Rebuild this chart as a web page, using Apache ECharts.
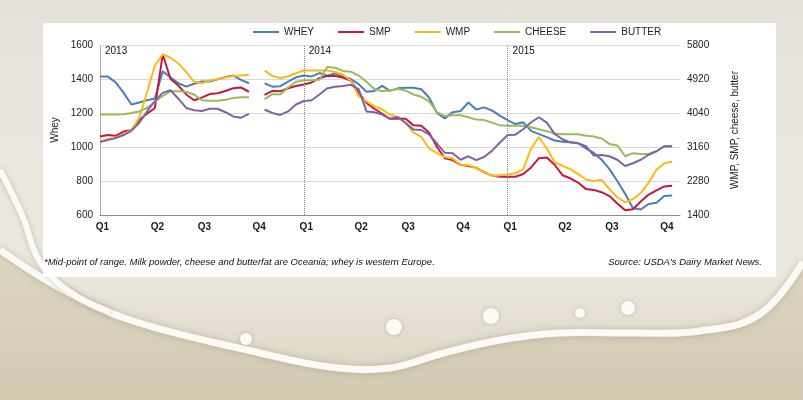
<!DOCTYPE html>
<html><head><meta charset="utf-8">
<script src="https://cdn.jsdelivr.net/npm/echarts@6/dist/echarts.min.js"></script>
<style>
html,body{margin:0;padding:0;width:803px;height:400px;overflow:hidden;}
body{background:linear-gradient(180deg,#e3e1da 0%,#e9e7df 35%,#ebe8de 68%,#d9d2bd 100%);}
#c{width:803px;height:400px;}
</style></head><body><div id="c"></div>
<script>
// ---- data ----
const seriesNames = ['WHEY', 'SMP', 'WMP', 'CHEESE', 'BUTTER'];
const years = ['2013', '2014', '2015'];
// Whey (left axis), fortnightly
const whey = [1414,1414,1380,1320,1250,1262,1275,1285,1445,1410,1375,1355,1372,1385,1385,1398,1412,1420,1395,1375,null,
  1374,1355,1358,1385,1410,1420,1415,1435,1420,1432,1415,1400,1370,1325,1330,1360,1330,
  1345,1349,1349,1340,1290,1200,1168,1205,1212,1262,1220,1233,1215,1185,1158,1135,1145,1095,1076,1058,1038,1031,1028,1022,992,965,925,870,800,725,640,633,665,672,712,714,null];
// Right axis series
const smp = [3430,3470,3450,3560,3600,3860,4020,4170,5560,4920,4750,4520,4370,4440,4530,4550,4610,4680,4700,4590,null,
  4510,4610,4600,4680,4740,4780,4830,4940,5000,5000,4960,4880,4570,4300,4150,4020,3890,
  3900,3890,3720,3710,3530,3160,2870,2820,2700,2670,2620,2510,2420,2390,2390,2390,2460,2630,2870,2890,2700,2430,2350,2240,2070,2050,1990,1890,1700,1520,1550,1750,1930,2040,2140,2160,null];
const wmp = [3310,3360,3400,3490,3600,3910,4570,5270,5560,5470,5320,5100,4850,4810,4880,4920,4960,5000,5010,5030,null,
  5140,5000,4940,4990,5070,5140,5140,5140,5140,5100,5030,4880,4480,4340,4220,4130,4000,
  3930,3780,3530,3420,3120,3000,2900,2860,2700,2690,2610,2520,2410,2430,2450,2480,2590,3120,3420,3120,2770,2670,2590,2460,2320,2280,2310,2070,1860,1730,1810,1970,2240,2570,2740,2780,null];
const cheese = [4000,4000,4000,4010,4040,4080,4170,4330,4480,4600,4600,4590,4520,4370,4360,4360,4380,4430,4450,4450,null,
  4400,4530,4520,4700,4850,4890,4890,4900,5230,5210,5130,5110,5010,4850,4660,4600,4630,
  4660,4620,4520,4460,4340,4060,3960,3980,3980,3930,3870,3860,3790,3720,3710,3710,3710,3670,3620,3570,3510,3490,3490,3490,3450,3430,3380,3240,3200,2920,3000,2980,2980,3050,3180,3190,null];
const butter = [3290,3340,3390,3470,3580,3780,4080,4350,4560,4630,4410,4170,4110,4090,4150,4150,4060,3950,3920,4020,null,
  4130,4040,3990,4080,4260,4350,4370,4520,4680,4720,4740,4770,4660,4080,4060,4000,3890,
  3940,3780,3610,3600,3480,3250,3010,3000,2830,2920,2820,2900,3060,3270,3470,3480,3620,3800,3930,3790,3500,3360,3280,3260,3180,2940,2950,2920,2830,2670,2740,2830,2960,3050,3180,3170,null];
const leftAxis = { min: 600, max: 1600, step: 200, name: 'Whey' };
const rightAxis = { min: 1400, max: 5800, name: 'WMP, SMP, cheese, butter' };
const footnote = '*Mid-point of range. Milk powder, cheese and butterfat are Oceania; whey is western Europe.';
const sourceNote = "Source: USDA's Dairy Market News.";

// fortnightly period dates (category axis)
const periods = [];
for (let i = 0; i < whey.length; i++) {
  const d = new Date(Date.UTC(2013, 0, 3) + i * 14 * 86400000);
  periods.push(d.toISOString().slice(0, 10));
}
const quarterOf = s => Math.floor((+s.slice(5, 7) - 1) / 3) + 1;
const yearOf = s => s.slice(0, 4);
const yearStarts = [0];
for (let i = 1; i < periods.length; i++) if (yearOf(periods[i]) !== yearOf(periods[i - 1])) yearStarts.push(i);

const F = "'Liberation Sans Narrow', 'Arial Narrow', 'Liberation Sans', Arial, sans-serif";
const colors = ['#4a7ebb', '#c8163f', '#fdb913', '#9bbb59', '#8064a2'];
const values = [whey, smp, wmp, cheese, butter];

const series = values.map((d, k) => ({
  name: seriesNames[k], type: 'line', yAxisIndex: k === 0 ? 0 : 1, data: d,
  symbol: 'none', showSymbol: false, connectNulls: false, z: 3,
  lineStyle: { width: 2, color: colors[k] }, itemStyle: { color: colors[k] },
  emphasis: { disabled: true }, silent: true
}));
series[0].markLine = {
  silent: true, symbol: ['none', 'none'], label: { show: false },
  lineStyle: { type: 'dotted', color: '#8a8a8a', width: 1 },
  data: yearStarts.slice(1).map(i => ({ xAxis: periods[i] }))
};
series[0].markPoint = {
  silent: true, symbol: 'circle', symbolSize: 0,
  label: { show: true, position: 'right', distance: 5, formatter: '{b}', fontSize: 10, color: '#111', fontFamily: F },
  data: yearStarts.map((i, k) => ({ name: years[k], coord: [periods[i], 1562] }))
};

const rim = [[0,250],[60,288],[130,320],[256,352],[330,367],[390,368],[440,354],[500,340],[560,333],[630,333],[700,331],[760,314],[803,262]];
const splashShadow = 'rgba(120,110,90,0.35)';
const drops = [[246,339,6],[394,327,8],[491,316,8],[580,313,5],[628,308,7]];

const graphics = [
  { type: 'polygon', silent: true, z: -30,
    shape: { points: rim.concat([[803,400],[0,400]]), smooth: 0 },
    style: { fill: { type: 'linear', x: 0, y: 0, x2: 0, y2: 1, colorStops: [{ offset: 0, color: '#ddd6c2' }, { offset: 1, color: '#d2c9b1' }] } } },
  { type: 'polyline', silent: true, z: -29, shape: { points: rim, smooth: 0.4 },
    style: { fill: null, stroke: '#fbfaf6', lineWidth: 7, shadowBlur: 6, shadowColor: splashShadow } },
  { type: 'polyline', silent: true, z: -29, shape: { points: [[0,170],[22,215],[40,262],[70,292],[110,312]], smooth: 0.4 },
    style: { fill: null, stroke: '#fbfaf6', lineWidth: 6, shadowBlur: 5, shadowColor: splashShadow } }
].concat(drops.map(d => ({ type: 'circle', silent: true, z: -28, shape: { cx: d[0], cy: d[1], r: d[2] },
    style: { fill: '#fbfaf6', shadowBlur: 4, shadowColor: splashShadow } }))).concat([
  { type: 'rect', silent: true, z: -20, shape: { x: 43, y: 23, width: 733, height: 254 }, style: { fill: '#ffffff' } },
  { type: 'text', silent: true, z: 5, x: 44, y: 262,
    style: { text: footnote, font: 'italic 9.5px ' + F, fill: '#111', align: 'left', verticalAlign: 'middle' } },
  { type: 'text', silent: true, z: 5, x: 762, y: 262,
    style: { text: sourceNote, font: 'italic 9.5px ' + F, fill: '#111', align: 'right', verticalAlign: 'middle' } }
]);

const plain = v => String(v);

const chart = echarts.init(document.getElementById('c'), null, { renderer: 'canvas' });
chart.setOption({
  animation: false,
  backgroundColor: 'transparent',
  color: colors,
  grid: { left: 100, top: 45, width: 580, height: 170, containLabel: false },
  legend: {
    left: 253, top: 27, padding: 0, icon: 'rect', itemWidth: 26, itemHeight: 2, itemGap: 24,
    textStyle: { fontSize: 10, color: '#222', fontFamily: F }, data: seriesNames, selectedMode: false
  },
  xAxis: {
    type: 'category', data: periods, boundaryGap: false,
    axisLine: { show: true, lineStyle: { color: '#8c8c8c', width: 1 } },
    axisTick: { show: false },
    splitLine: { show: false },
    axisLabel: {
      interval: (idx) => idx === 0 || quarterOf(periods[idx]) !== quarterOf(periods[idx - 1]),
      formatter: v => 'Q' + quarterOf(v),
      fontSize: 10, fontWeight: 'bold', color: '#1a1a1a', margin: 7, fontFamily: F, padding: [0, 0, 0, 5]
    }
  },
  yAxis: [
    {
      type: 'value', position: 'left', min: leftAxis.min, max: leftAxis.max, interval: leftAxis.step,
      name: leftAxis.name, nameLocation: 'middle', nameGap: 21, nameRotate: 90,
      nameTextStyle: { fontSize: 10, color: '#222', fontFamily: F },
      axisLine: { show: true, lineStyle: { color: '#999', type: 'dotted' } },
      axisTick: { show: false },
      axisLabel: { fontSize: 10, color: '#222', margin: 7, fontFamily: F, formatter: plain },
      splitLine: { lineStyle: { color: '#d9d9d9', width: 1 } }
    },
    {
      type: 'value', position: 'right', min: rightAxis.min, max: rightAxis.max, alignTicks: true,
      name: rightAxis.name, nameLocation: 'middle', nameGap: 50, nameRotate: 90,
      nameTextStyle: { fontSize: 10, color: '#222', fontFamily: F },
      axisLine: { show: false }, axisTick: { show: false }, splitLine: { show: false },
      axisLabel: { fontSize: 10, color: '#222', margin: 7, fontFamily: F, formatter: plain }
    }
  ],
  graphic: graphics,
  series: series
});
</script>
</body></html>
